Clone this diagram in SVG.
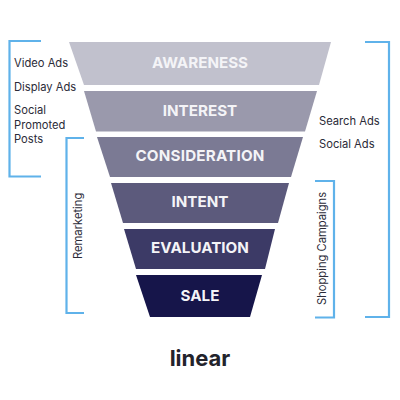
<svg xmlns="http://www.w3.org/2000/svg" width="400" height="400" viewBox="0 0 400 400">
<style>
.t{font-family:"Inter","Noto Sans",sans-serif;font-weight:700;font-size:15.200px;fill:#f4f4f7;text-anchor:middle}
.l{font-family:"Inter","Noto Sans",sans-serif;font-weight:400;font-size:11.200px;fill:#2b2b38}
.b{fill:none;stroke:#5fb2ea;stroke-width:2.200}
</style>
<rect width="400" height="400" fill="#fff"/>
<g id="awareness"><polygon points="69,42 331,42 319,85 84,85" fill="#c1c1cd"/><text class="t" x="200" y="68">AWARENESS</text></g>
<g id="interest"><polygon points="84,91 317,91 305,131.500 96,131.500" fill="#9a99ac"/><text class="t" x="200" y="116">INTEREST</text></g>
<g id="consideration"><polygon points="97,137 303,137 291,177 110,177" fill="#7b7a94"/><text class="t" x="200" y="161" letter-spacing="0.200">CONSIDERATION</text></g>
<g id="intent"><polygon points="111,183 289,183 278,223 123,223" fill="#5c5a7c"/><text class="t" x="200" y="207">INTENT</text></g>
<g id="evaluation"><polygon points="124,229 275,229 265,269 136,269" fill="#3c3a66"/><text class="t" x="200" y="253">EVALUATION</text></g>
<g id="sale"><polygon points="136,275 262,275 250,317 150,317" fill="#16154a"/><text class="t" x="200" y="300.500">SALE</text></g>
<g id="connectors">
<path class="b" d="M41,41H9.500V176.500H41"/>
<path class="b" d="M84,138H66.500V313H84"/>
<path class="b" d="M315,181H334V317.500H315"/>
<path class="b" d="M365,42H389V317H365"/>
</g>
<g id="labels">
<text class="l" x="14" y="67">Video Ads</text>
<text class="l" x="14" y="91">Display Ads</text>
<text class="l" x="14" y="114">Social</text>
<text class="l" x="14" y="129">Promoted</text>
<text class="l" x="14" y="143">Posts</text>
<text class="l" x="319" y="125">Search Ads</text>
<text class="l" x="319" y="148">Social Ads</text>
<text class="l" transform="translate(81.500,259) rotate(-90)">Remarketing</text>
<text class="l" transform="translate(326,305) rotate(-90)">Shopping Campaigns</text>
</g>
<g id="logo"><text x="200" y="366" font-family="Inter,sans-serif" font-weight="700" font-size="22" fill="#23232b" text-anchor="middle">linear</text></g>
</svg>
